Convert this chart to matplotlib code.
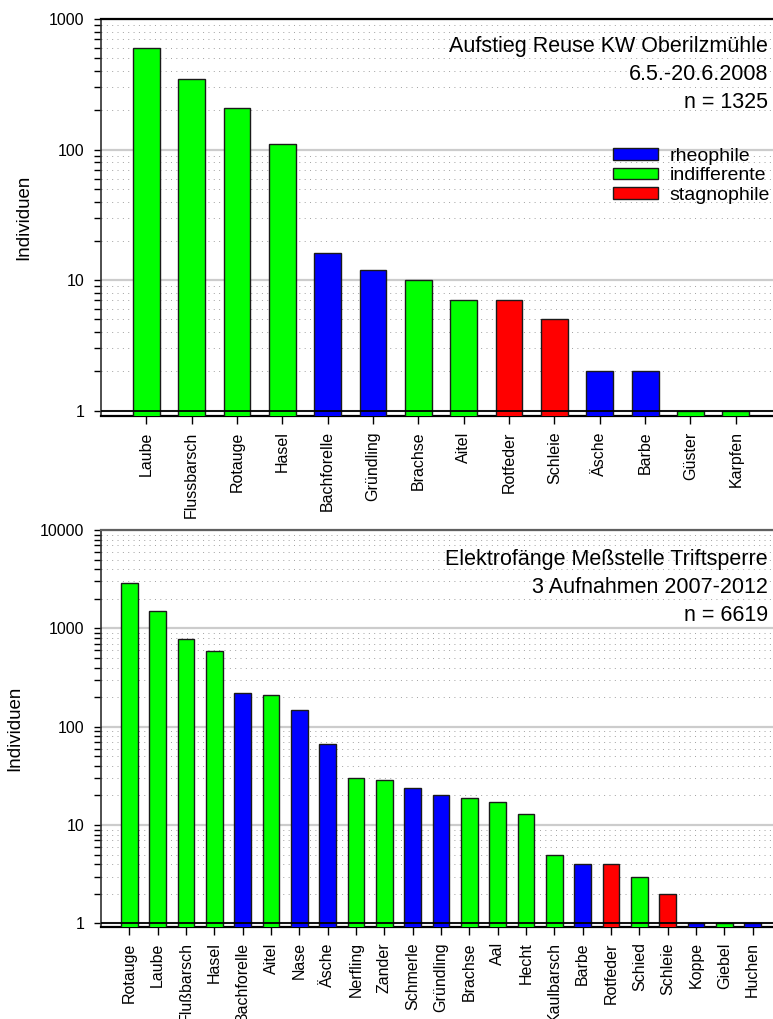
import matplotlib
matplotlib.use("Agg")
import matplotlib.pyplot as plt
from matplotlib.patches import Patch
from matplotlib.ticker import LogLocator, NullFormatter, FixedLocator

plt.rcParams['font.family'] = ['Liberation Sans', 'DejaVu Sans']

# --- catch data -------------------------------------------------------------
species_reuse = ['Laube', 'Flussbarsch', 'Rotauge', 'Hasel', 'Bachforelle',
                 'Gründling', 'Brachse', 'Aitel', 'Rotfeder', 'Schleie',
                 'Äsche', 'Barbe', 'Güster', 'Karpfen']
counts_reuse = [600, 345, 207, 110, 16, 12, 10, 7, 7, 5, 2, 2, 1, 1]
guild_reuse = ['i', 'i', 'i', 'i', 'r', 'r', 'i', 'i', 's', 's', 'r', 'r', 'i', 'i']

species_efi = ['Rotauge', 'Laube', 'Flußbarsch', 'Hasel', 'Bachforelle', 'Aitel',
               'Nase', 'Äsche', 'Nerfling', 'Zander', 'Schmerle', 'Gründling',
               'Brachse', 'Aal', 'Hecht', 'Kaulbarsch', 'Barbe', 'Rotfeder',
               'Schied', 'Schleie', 'Koppe', 'Giebel', 'Huchen']
counts_efi = [2919, 1510, 780, 590, 221, 210, 149, 67, 30, 29, 24, 20,
              19, 17, 13, 5, 4, 4, 3, 2, 1, 1, 1]
guild_efi = ['i', 'i', 'i', 'i', 'r', 'i', 'r', 'r', 'i', 'i', 'r', 'r',
             'i', 'i', 'i', 'i', 'r', 's', 'i', 's', 'r', 'i', 'r']

guild_names = ['rheophile', 'indifferente', 'stagnophile']
guild_keys = ['r', 'i', 's']
guild_colors = {'r': '#0000ff', 'i': '#00ff00', 's': '#ff0000'}

title_reuse = ['Aufstieg Reuse KW Oberilzmühle', '6.5.-20.6.2008', 'n = 1325']
title_efi = ['Elektrofänge Meßstelle Triftsperre', '3 Aufnahmen 2007-2012', 'n = 6619']

W, H = 773, 1019
fig = plt.figure(figsize=(W / 100, H / 100), dpi=100)


def px_axes(left, top, right, bottom):
    return fig.add_axes([left / W, 1 - bottom / H, (right - left) / W, (bottom - top) / H])


def draw_panel(ax, names, counts, guilds, ylim, xright, top_color):
    x = list(range(len(names)))
    colors = [guild_colors[g] for g in guilds]
    ax.set_yscale('log')
    ax.bar(x, counts, width=0.59, color=colors, edgecolor='#1a1a1a',
           linewidth=1.0, zorder=3)
    ax.set_ylim(*ylim)
    ax.set_xlim(-1, xright)
    ax.set_axisbelow(True)

    # decade gridlines solid, 2..9 dotted
    ax.yaxis.set_major_locator(LogLocator(base=10, numticks=10))
    ax.yaxis.set_minor_locator(LogLocator(base=10, subs=range(2, 10), numticks=20))
    ax.yaxis.set_minor_formatter(NullFormatter())
    ax.yaxis.set_major_formatter(plt.FuncFormatter(lambda v, p: f'{v:.0f}'))
    ax.grid(which='major', axis='y', color='#cccccc', lw=1.6, zorder=0)
    ax.grid(which='minor', axis='y', color='#a0a0a0', lw=0.7,
            ls=(0, (1, 4.5)), zorder=0)
    ax.axhline(1, color='black', lw=1.3, zorder=4)

    ax.xaxis.set_major_locator(FixedLocator(x))
    ax.set_xticklabels(names, rotation=90, fontsize=11.5)
    ax.tick_params(axis='x', direction='out', length=6, width=1, pad=5,
                   color='black')
    ax.tick_params(axis='y', which='both', direction='out', length=5, width=1,
                   labelsize=11.5, pad=7, color='black')

    ax.spines['right'].set_visible(False)
    ax.spines['top'].set_color(top_color)
    ax.spines['top'].set_linewidth(1.6)
    ax.spines['bottom'].set_linewidth(1.6)
    ax.spines['left'].set_color('#303030')
    ax.spines['left'].set_linewidth(1.2)
    ax.set_ylabel('Individuen', fontsize=13.5, labelpad=12)


ax1 = px_axes(101, 19, 773, 416)
draw_panel(ax1, species_reuse, counts_reuse, guild_reuse, (0.91, 1000), 13.82, 'black')

ax2 = px_axes(101, 530, 773, 927)
draw_panel(ax2, species_efi, counts_efi, guild_efi, (0.92, 10000), 22.72, '#606060')

# stacked titles, right aligned
for line, base in zip(title_reuse, [52, 80, 108]):
    fig.text(768 / W, 1 - base / H, line, ha='right', va='baseline', fontsize=15.5)
for line, base in zip(title_efi, [565, 593, 621]):
    fig.text(768 / W, 1 - base / H, line, ha='right', va='baseline', fontsize=15.5)

handles = [Patch(facecolor=guild_colors[k], edgecolor='#1a1a1a', linewidth=1.0)
           for k in guild_keys]
ax1.legend(handles, guild_names, loc='upper left',
           bbox_to_anchor=(613 / W, 1 - 148 / H), bbox_transform=fig.transFigure,
           frameon=False, fontsize=14, borderpad=0, borderaxespad=0,
           handlelength=2.3, handleheight=0.55, handletextpad=0.6,
           labelspacing=0.12)

fig.savefig('out.png', dpi=100)
